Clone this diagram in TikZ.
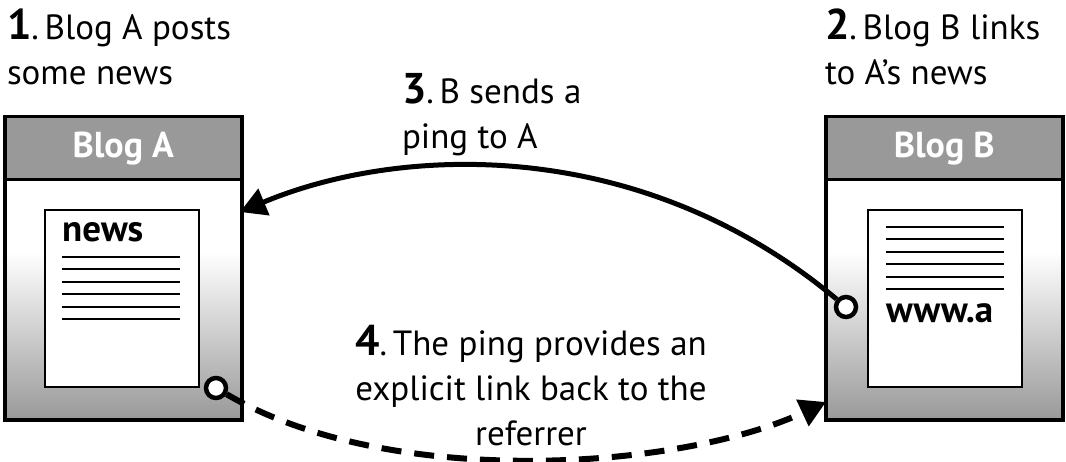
\documentclass[tikz,border=0pt]{standalone}
\usepackage{fontspec}
\setmainfont{PT Sans}
\usetikzlibrary{arrows.meta}
\definecolor{boxgray}{gray}{0.6}
\pgfdeclareverticalshading{blogbody}{100bp}{color(0bp)=(boxgray); color(25bp)=(boxgray); color(60bp)=(white); color(100bp)=(white)}
\newcommand{\stepnum}[1]{{\fontsize{43}{43}\selectfont\bfseries #1}.\,}
\tikzset{
  caption/.style={font=\fontsize{35}{45}\selectfont, inner sep=0pt, outer sep=0pt},
  header/.style={draw=black, line width=3.5pt, fill=boxgray, minimum width=237pt, minimum height=63pt, anchor=north west, inner sep=0pt, text=white, font=\fontsize{36}{36}\selectfont\bfseries},
  body/.style={draw=black, line width=3.5pt, shading=blogbody, minimum width=237pt, minimum height=240pt, anchor=north west, inner sep=0pt},
  paper/.style={draw=black, line width=2pt, fill=white, minimum width=154pt, minimum height=177pt, anchor=north west, inner sep=0pt},
  textline/.style={line width=2pt},
  papertext/.style={font=\fontsize{37}{37}\selectfont\bfseries, inner sep=0pt, anchor=base west},
  ring/.style={circle, draw=black, line width=4.5pt, fill=white, minimum size=20pt, inner sep=0pt},
  conn/.style={line width=5pt, -{Triangle[length=26pt,width=28pt]}},
  dconn/.style={line width=6pt, dash pattern=on 20pt off 13pt, -{Triangle[length=26pt,width=28pt]}}
}
\begin{document}
\begin{tikzpicture}[x=1pt,y=-1pt]
\useasboundingbox (0,0) rectangle (1066,462);
% Blog A
\node[body] (bodyA) at (3,178) {};
\node[header] (headA) at (3,115) {Blog A};
\node[paper] (paperA) at (44,209) {};
\foreach \y in {257,269.4,281.8,294.2,306.6,319} \draw[textline] (62,\y) -- (180,\y);
\node[papertext] (newsA) at (62,242) {news};
\node[ring] (cA) at (216,388) {};
% Blog B
\node[body] (bodyB) at (824,178) {};
\node[header] (headB) at (824,115) {Blog B};
\node[paper] (paperB) at (867,209) {};
\foreach \y in {227,239.4,251.8,264.2,276.6,289} \draw[textline] (886,\y) -- (1004,\y);
\node[papertext] (wwwB) at (886,323) {www.a};
\node[ring] (cB) at (846,307) {};
% connectors
\coordinate (tipA) at (240,212);
\coordinate (tipB) at (826,402);
\draw[conn] (cB) .. controls (640,135) and (400,145) .. (tipA);
\draw[dconn] (cA) .. controls (390,490) and (680,470) .. (tipB);
% captions
\node[caption, anchor=north west, align=left] (cap1) at (7,9) {\stepnum{1}Blog A posts\\some news};
\node[caption, anchor=north west, align=left] (cap2) at (825,9) {\stepnum{2}Blog B links\\to A's news};
\node[caption, anchor=north west, align=left] (cap3) at (402,73) {\stepnum{3}B sends a\\ping to A};
\node[caption, anchor=north, align=center] (cap4) at (531,325) {\stepnum{4}The ping provides an\\explicit link back to the\\referrer};
\end{tikzpicture}
\end{document}
